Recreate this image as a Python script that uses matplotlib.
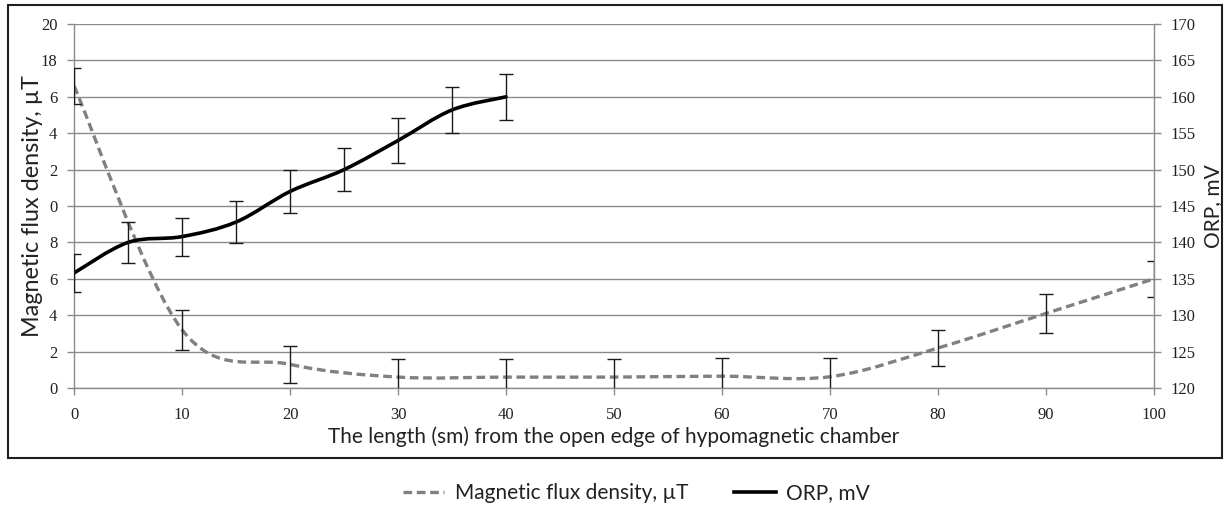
import numpy as np
import matplotlib.pyplot as plt
from matplotlib.path import Path
from matplotlib.patches import PathPatch, Rectangle
from matplotlib.lines import Line2D

# magnetic flux density along the chamber (left axis)
dist_flux = [0, 10, 20, 30, 40, 50, 60, 70, 80, 90, 100]
flux = [16.6, 3.2, 1.3, 0.6, 0.6, 0.6, 0.65, 0.62, 2.2, 4.1, 6.0]
flux_err = [1.0, 1.1, 1.0, 1.0, 1.0, 1.0, 1.0, 1.05, 1.0, 1.05, 1.0]

# ORP (right axis)
dist_orp = [0, 5, 10, 15, 20, 25, 30, 35, 40]
orp = [135.8, 140.0, 140.8, 142.8, 147.0, 150.0, 154.0, 158.2, 160.0]
orp_err = [2.6, 2.8, 2.6, 2.9, 2.9, 3.0, 3.1, 3.2, 3.2]

x_ticks = list(range(0, 101, 10))
left_ticks = list(range(0, 21, 2))
# the left labels as printed in the source chart (leading "1" hidden under the title)
left_labels = ['0', '2', '4', '6', '8', '0', '2', '4', '6', '18', '20']
right_ticks = list(range(120, 171, 5))

grid_col = '#8a8a8a'
sans = ['Lato', 'DejaVu Sans']

plt.rcParams['font.family'] = ['Liberation Serif', 'DejaVu Serif']


def smooth_path(x, y):
    # excel style smoothed line: one cubic bezier between each pair of points
    p = np.column_stack([x, y]).astype(float)
    pad = np.vstack([p[:1], p, p[-1:]])
    verts = [p[0]]
    codes = [Path.MOVETO]
    for i in range(len(p) - 1):
        c1 = p[i] + (pad[i + 2] - pad[i]) / 6
        c2 = p[i + 1] - (pad[i + 3] - pad[i + 1]) / 6
        verts += [c1, c2, p[i + 1]]
        codes += [Path.CURVE4] * 3
    return Path(verts, codes)


fig = plt.figure(figsize=(12.26, 5.09), dpi=100)
ax = fig.add_axes([0.0604, 0.2377, 0.8809, 0.7151])
ax2 = ax.twinx()

# left axis: flux density
ax.set_xlim(0, 100)
ax.set_ylim(0, 20)
ax.set_xticks(x_ticks)
ax.set_yticks(left_ticks)
ax.set_yticklabels(left_labels)
ax.grid(axis='y', color=grid_col, lw=1.0)
ax.set_axisbelow(True)
for s in ['top', 'right']:
    ax.spines[s].set_visible(False)
for s in ['left', 'bottom']:
    ax.spines[s].set_color(grid_col)
    ax.spines[s].set_linewidth(1.0)
ax.tick_params(direction='out', length=5, width=1, color=grid_col,
               labelsize=12, labelcolor='#222222')
ax.tick_params(axis='x', pad=9)
ax.tick_params(axis='y', pad=7)

flux_line = PathPatch(smooth_path(dist_flux, flux), fill=False, ec='#808080',
                      lw=2.4, linestyle=(0, (2.6, 1.4)), capstyle='butt', zorder=3)
ax.add_patch(flux_line)
ax.errorbar(dist_flux, flux, yerr=flux_err, fmt='none', ecolor='#1a1a1a',
            elinewidth=1.0, capsize=5, capthick=1.0, zorder=4)

ax.set_xlabel('The length (sm) from the open edge of hypomagnetic chamber',
              family=sans, fontsize=15, color='#222222')
ax.xaxis.set_label_coords(0.5, -0.105)
ax.set_ylabel('Magnetic flux density, \u00b5T', family=sans, fontsize=16.8,
              color='#222222')
ax.yaxis.set_label_coords(-0.0287, 0.5)

# right axis: ORP
ax2.set_ylim(120, 170)
ax2.set_yticks(right_ticks)
for s in ['top', 'left', 'bottom']:
    ax2.spines[s].set_visible(False)
ax2.spines['right'].set_color(grid_col)
ax2.spines['right'].set_linewidth(1.0)
ax2.tick_params(direction='out', length=5, width=1, color=grid_col,
                labelsize=12, labelcolor='#222222', pad=7)

orp_line = PathPatch(smooth_path(dist_orp, orp), fill=False, ec='black',
                     lw=2.6, capstyle='round', joinstyle='round', zorder=3)
ax2.add_patch(orp_line)
ax2.errorbar(dist_orp, orp, yerr=orp_err, fmt='none', ecolor='#1a1a1a',
             elinewidth=1.0, capsize=5, capthick=1.0, zorder=4)

ax2.set_ylabel('ORP, mV', family=sans, fontsize=15, color='#222222')
ax2.yaxis.set_label_coords(1.045, 0.5)

# chart frame
fig.patches.append(Rectangle((0.0065, 0.1002), 0.9902, 0.8898, transform=fig.transFigure,
                             fill=False, ec='#1e1e1e', lw=1.5))

handles = [Line2D([], [], color='#808080', lw=2.4, linestyle=(0, (2.6, 1.4))),
           Line2D([], [], color='black', lw=2.6)]
fig.legend(handles, ['Magnetic flux density, \u00b5T', 'ORP, mV'], loc='center',
           bbox_to_anchor=(0.519, 0.0314), ncol=2, frameon=False,
           prop={'family': sans, 'size': 15}, handlelength=2.0,
           handletextpad=0.5, columnspacing=2.2, labelcolor='#222222')

fig.savefig('out.png', dpi=100)
